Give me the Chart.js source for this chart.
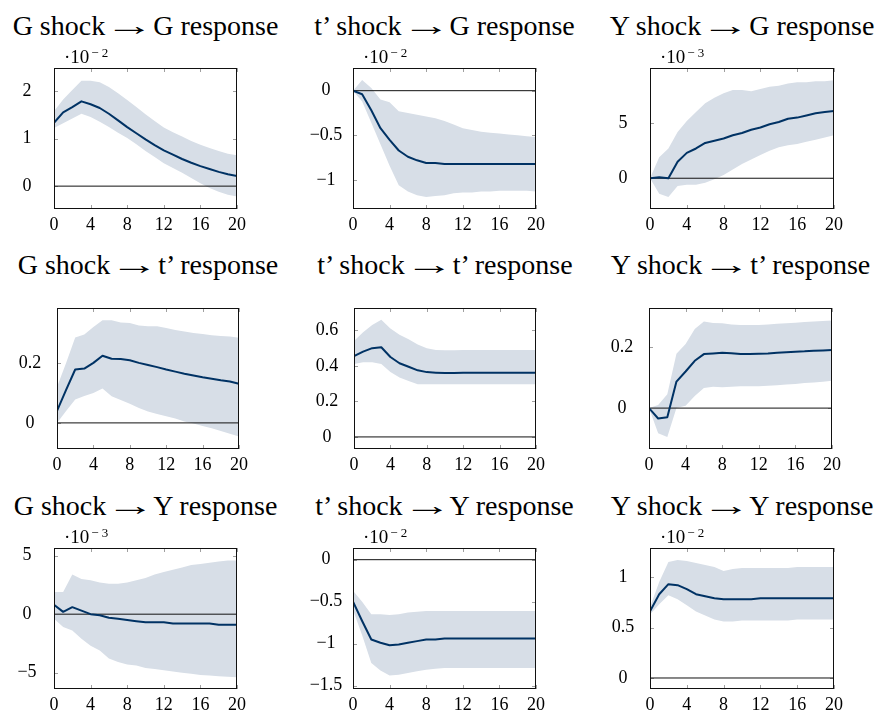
<!DOCTYPE html>
<html><head><meta charset="utf-8">
<script src="https://cdn.jsdelivr.net/npm/chart.js@4/dist/chart.umd.min.js"></script>
<style>
html,body{margin:0;padding:0;width:879px;height:713px;overflow:hidden;background:#fff;}
canvas{position:absolute;}
.ttl{position:absolute;width:400px;font-family:'Liberation Serif',serif;font-size:28px;line-height:28px;white-space:nowrap;text-align:center;color:#000;}
.ttl .arr{display:inline-block;transform:scaleX(1.75);margin:0 3px;}
.exp{position:absolute;font-family:'Liberation Serif',serif;font-size:19px;line-height:19px;white-space:nowrap;color:#000;}
.exp span{font-size:13px;position:relative;top:-6.6px;margin-left:2px;letter-spacing:3px;}
</style></head><body>
<script>
// ---------------- DATA ----------------
const horizons = [0,1,2,3,4,5,6,7,8,9,10,11,12,13,14,15,16,17,18,19,20];
const xTickLabels = [0,4,8,12,16,20];

const shockNames = ["G", "t\u2019", "Y", "G", "t\u2019", "Y", "G", "t\u2019", "Y"];
const responseNames = ["G", "G", "G", "t\u2019", "t\u2019", "t\u2019", "Y", "Y", "Y"];

// G shock -> G response (x 1e-2)
const gG_mid = [1.33,1.55,1.66,1.78,1.72,1.64,1.52,1.38,1.24,1.11,0.98,0.86,0.75,0.66,0.57,0.49,0.42,0.36,0.30,0.25,0.21];
const gG_hi  = [1.57,1.82,2.02,2.21,2.21,2.18,2.08,1.95,1.81,1.66,1.51,1.37,1.23,1.13,1.04,0.95,0.87,0.80,0.74,0.68,0.65];
const gG_lo  = [1.22,1.32,1.42,1.52,1.45,1.35,1.24,1.12,1.01,0.88,0.74,0.61,0.48,0.38,0.28,0.17,0.06,-0.04,-0.12,-0.18,-0.22];
// t' shock -> G response (x 1e-2)
const tG_mid = [0,-0.04,-0.22,-0.42,-0.55,-0.67,-0.74,-0.78,-0.81,-0.81,-0.82,-0.82,-0.82,-0.82,-0.82,-0.82,-0.82,-0.82,-0.82,-0.82,-0.82];
const tG_hi  = [0,0.12,0.03,-0.10,-0.13,-0.23,-0.25,-0.27,-0.29,-0.31,-0.34,-0.38,-0.42,-0.44,-0.46,-0.47,-0.48,-0.49,-0.50,-0.51,-0.52];
const tG_lo  = [0,-0.12,-0.36,-0.60,-0.84,-1.06,-1.13,-1.17,-1.19,-1.18,-1.17,-1.15,-1.14,-1.14,-1.13,-1.13,-1.12,-1.12,-1.12,-1.12,-1.13];
// Y shock -> G response (x 1e-3)
const yG_mid = [0,0.1,0,1.5,2.3,2.7,3.2,3.4,3.6,3.9,4.1,4.4,4.6,4.9,5.1,5.4,5.5,5.7,5.9,6.0,6.1];
const yG_hi  = [0,1.9,2.7,4.2,5.2,6.0,6.8,7.3,7.7,8.0,8.0,7.9,8.1,8.3,8.4,8.6,8.7,8.7,8.8,8.8,8.9];
const yG_lo  = [0,-1.4,-1.7,-0.7,-0.6,-0.6,-0.4,-0.1,0.3,0.8,1.3,1.7,2.1,2.5,2.8,3.0,3.1,3.3,3.5,3.7,3.9];
// G shock -> t' response
const gT_mid = [0.04,0.11,0.178,0.181,0.20,0.224,0.214,0.213,0.209,0.20,0.193,0.186,0.178,0.171,0.164,0.158,0.152,0.147,0.142,0.138,0.13];
const gT_hi  = [0.12,0.20,0.285,0.295,0.32,0.342,0.342,0.335,0.333,0.325,0.322,0.322,0.316,0.31,0.305,0.30,0.296,0.292,0.29,0.288,0.284];
const gT_lo  = [0,0.04,0.078,0.09,0.10,0.115,0.089,0.076,0.064,0.05,0.038,0.03,0.022,0.015,0.005,-0.002,-0.01,-0.018,-0.027,-0.036,-0.045];
// t' shock -> t' response
const tT_mid = [0.455,0.48,0.50,0.505,0.45,0.415,0.395,0.375,0.365,0.362,0.36,0.36,0.362,0.362,0.362,0.362,0.362,0.362,0.362,0.362,0.362];
const tT_hi  = [0.54,0.59,0.63,0.66,0.61,0.575,0.55,0.52,0.50,0.49,0.488,0.488,0.49,0.49,0.49,0.49,0.49,0.49,0.49,0.49,0.49];
const tT_lo  = [0.41,0.42,0.42,0.41,0.365,0.335,0.315,0.297,0.297,0.297,0.297,0.297,0.297,0.297,0.297,0.297,0.297,0.297,0.297,0.297,0.297];
// Y shock -> t' response
const yT_mid = [0,-0.034,-0.03,0.087,0.12,0.155,0.177,0.179,0.181,0.18,0.177,0.177,0.178,0.179,0.181,0.183,0.185,0.186,0.188,0.189,0.19];
const yT_hi  = [0,0.01,0.045,0.178,0.21,0.259,0.284,0.279,0.278,0.274,0.272,0.272,0.272,0.274,0.276,0.278,0.28,0.282,0.284,0.285,0.287];
const yT_lo  = [0,-0.082,-0.095,0,0.008,0.04,0.066,0.07,0.068,0.07,0.072,0.072,0.072,0.073,0.075,0.077,0.079,0.082,0.084,0.086,0.09];
// G shock -> Y response (x 1e-3)
const gY_mid = [0.8,0.2,0.6,0.3,0,-0.1,-0.3,-0.4,-0.5,-0.6,-0.7,-0.7,-0.7,-0.8,-0.8,-0.8,-0.8,-0.8,-0.9,-0.9,-0.9];
const gY_hi  = [1.9,1.9,3.4,3.0,2.9,2.7,2.6,2.6,2.7,2.9,3.1,3.4,3.6,3.8,4.0,4.2,4.3,4.4,4.5,4.6,4.6];
const gY_lo  = [-0.4,-1.1,-1.4,-2.1,-2.7,-3.1,-3.8,-4.1,-4.3,-4.4,-4.6,-4.7,-4.8,-4.9,-5.0,-5.1,-5.2,-5.25,-5.3,-5.35,-5.4];
// t' shock -> Y response (x 1e-2)
const tY_mid = [-0.5,-0.73,-0.95,-0.99,-1.02,-1.01,-0.99,-0.97,-0.95,-0.95,-0.94,-0.94,-0.94,-0.94,-0.94,-0.94,-0.94,-0.94,-0.94,-0.94,-0.94];
const tY_hi  = [-0.37,-0.50,-0.65,-0.65,-0.66,-0.65,-0.63,-0.62,-0.61,-0.61,-0.61,-0.61,-0.61,-0.61,-0.61,-0.61,-0.61,-0.61,-0.61,-0.61,-0.61];
const tY_lo  = [-0.6,-0.9,-1.23,-1.32,-1.38,-1.37,-1.35,-1.33,-1.31,-1.30,-1.29,-1.29,-1.29,-1.29,-1.29,-1.29,-1.29,-1.29,-1.29,-1.29,-1.29];
// Y shock -> Y response (x 1e-2)
const yY_mid = [0.66,0.83,0.93,0.92,0.88,0.83,0.81,0.79,0.78,0.78,0.78,0.78,0.79,0.79,0.79,0.79,0.79,0.79,0.79,0.79,0.79];
const yY_hi  = [0.70,0.95,1.15,1.17,1.16,1.14,1.12,1.10,1.06,1.08,1.09,1.09,1.09,1.09,1.09,1.09,1.10,1.10,1.10,1.10,1.10];
const yY_lo  = [0.63,0.73,0.82,0.78,0.72,0.66,0.62,0.58,0.56,0.56,0.57,0.57,0.57,0.57,0.57,0.57,0.58,0.58,0.58,0.58,0.58];

// y tick labels per panel
const yTicks = [[0,1,2],[-1,-0.5,0],[0,5],[0,0.2],[0,0.2,0.4,0.6],[0,0.2],[-5,0,5],[-1.5,-1,-0.5,0],[0,0.5,1]];
// y axis limits per panel
const yMin = [-0.48,-1.325,-2.79,-0.087,-0.068,-0.134,-6.4,-1.54,-0.109];
const yMax = [2.48,0.254,10.0,0.383,0.726,0.328,5.66,0.139,1.288];
// scale exponents (null = none)
const exponents = ["\u22122","\u22122","\u22123",null,null,null,"\u22123","\u22122","\u22122"];

const mids = [gG_mid,tG_mid,yG_mid,gT_mid,tT_mid,yT_mid,gY_mid,tY_mid,yY_mid];
const his  = [gG_hi,tG_hi,yG_hi,gT_hi,tT_hi,yT_hi,gY_hi,tY_hi,yY_hi];
const los  = [gG_lo,tG_lo,yG_lo,gT_lo,tT_lo,yT_lo,gY_lo,tY_lo,yY_lo];

// ---------------- LAYOUT / STYLE ----------------
const boxes = [
  {l:54,r:237,t:68,b:209},{l:353,r:536,t:68,b:209},{l:650,r:834,t:68,b:209},
  {l:57,r:239,t:308,b:449},{l:354,r:536,t:308,b:449},{l:649,r:832,t:308,b:449},
  {l:54,r:237,t:548,b:689},{l:353,r:536,t:548,b:689},{l:650,r:834,t:548,b:689}
];
const titleBaselines = [35.5,274,515.5];
const Y_AXIS_W = 50, X_AXIS_H = 28, PAD_T = 8, PAD_R = 12;
const LABEL_CENTER = 27;
const FONT = "'Liberation Serif', serif";
const TICK_SIZE = 18;
const NAVY = 'rgb(0,50,100)';
const BAND = 'rgb(215,222,231)';

Chart.defaults.font.family = FONT;
Chart.defaults.font.size = TICK_SIZE;
Chart.defaults.color = '#000';

const fmt = v => (v < 0 ? '\u2212' + String(Math.abs(v)) : String(v));
const mctx = document.createElement('canvas').getContext('2d');
mctx.font = TICK_SIZE + "px 'Liberation Serif'";

const framePlugin = {
  id: 'frame',
  beforeDatasetsDraw(chart) {
    const {ctx, chartArea: a, scales} = chart;
    ctx.save();
    ctx.strokeStyle = '#a0a0a0';
    ctx.lineWidth = 1;
    ctx.beginPath();
    scales.y.ticks.forEach(t => {
      const y = Math.round(scales.y.getPixelForValue(t.value)) + 0.5;
      ctx.moveTo(a.left, y); ctx.lineTo(a.left + 4, y);
      ctx.moveTo(a.right - 4, y); ctx.lineTo(a.right, y);
    });
    scales.x.ticks.forEach(t => {
      const x = Math.round(scales.x.getPixelForValue(t.value)) + 0.5;
      ctx.moveTo(x, a.bottom); ctx.lineTo(x, a.bottom - 4);
      ctx.moveTo(x, a.top); ctx.lineTo(x, a.top + 4);
    });
    ctx.stroke();
    ctx.restore();
  },
  afterDraw(chart) {
    const {ctx, chartArea: a} = chart;
    ctx.save();
    ctx.strokeStyle = '#111';
    ctx.lineWidth = 1;
    ctx.strokeRect(a.left + 0.5, a.top + 0.5, a.right - a.left - 1, a.bottom - a.top - 1);
    ctx.restore();
  }
};

function pts(arr) { return arr.map((v, i) => ({x: horizons[i], y: v})); }

for (let i = 0; i < 9; i++) {
  const bx = boxes[i];
  const W = Y_AXIS_W + (bx.r - bx.l) + PAD_R;
  const H = PAD_T + (bx.b - bx.t) + X_AXIS_H;
  const cv = document.createElement('canvas');
  cv.width = W; cv.height = H;
  cv.style.left = (bx.l - Y_AXIS_W) + 'px';
  cv.style.top = (bx.t - PAD_T) + 'px';
  cv.style.width = W + 'px'; cv.style.height = H + 'px';
  document.body.appendChild(cv);

  // title
  const row = Math.floor(i / 3);
  const td = document.createElement('div');
  td.className = 'ttl';
  td.appendChild(document.createTextNode(shockNames[i] + ' shock '));
  const ar = document.createElement('span');
  ar.className = 'arr';
  ar.textContent = '\u2192';
  td.appendChild(ar);
  td.appendChild(document.createTextNode(' ' + responseNames[i] + ' response'));
  td.style.left = ((bx.l + bx.r) / 2 - 200) + 'px';
  td.style.top = (titleBaselines[row] - 23.45) + 'px';
  document.body.appendChild(td);

  // exponent
  if (exponents[i]) {
    const ed = document.createElement('div');
    ed.className = 'exp';
    ed.innerHTML = '\u00b710<span>' + exponents[i] + '</span>';
    ed.style.left = (bx.l + 10) + 'px';
    ed.style.top = (bx.t - 4.7 - 15.9) + 'px';
    document.body.appendChild(ed);
  }

  const ticks = yTicks[i];
  const widest = Math.max(...ticks.map(v => mctx.measureText(fmt(v)).width));
  const pad = Math.max(0, LABEL_CENTER - widest / 2);
  const last = horizons.length - 1;

  new Chart(cv, {
    type: 'line',
    data: {
      datasets: [
        {data: pts(his[i]), borderWidth: 0, pointRadius: 0, fill: '+1', backgroundColor: BAND, borderColor: 'rgba(0,0,0,0)', tension: 0, order: 2},
        {data: pts(los[i]), borderWidth: 0, pointRadius: 0, fill: false, borderColor: 'rgba(0,0,0,0)', tension: 0, order: 3},
        {data: [{x: horizons[0], y: 0}, {x: horizons[last], y: 0}], borderWidth: 1, borderColor: '#111', pointRadius: 0, fill: false, order: 1},
        {data: pts(mids[i]), borderWidth: 2, borderColor: NAVY, pointRadius: 0, fill: false, tension: 0, order: 0, borderJoinStyle: 'round'}
      ]
    },
    options: {
      responsive: false, animation: false, devicePixelRatio: 1,
      layout: {padding: {left: 0, top: PAD_T, right: PAD_R, bottom: 0}},
      plugins: {legend: {display: false}, tooltip: {enabled: false}, title: {display: false}},
      scales: {
        x: {
          type: 'linear', min: horizons[0], max: horizons[last],
          grid: {display: false, drawTicks: false}, border: {display: false},
          ticks: {padding: 5, maxRotation: 0, autoSkip: false, color: '#000', callback: v => String(v)},
          afterBuildTicks: s => { s.ticks = xTickLabels.map(v => ({value: v})); },
          afterFit: s => { s.height = X_AXIS_H; s.paddingLeft = 0; s.paddingRight = 0; }
        },
        y: {
          type: 'linear', min: yMin[i], max: yMax[i],
          grid: {display: false, drawTicks: false}, border: {display: false},
          ticks: {crossAlign: 'center', padding: pad, color: '#000', callback: v => fmt(v)},
          afterBuildTicks: s => { s.ticks = ticks.map(v => ({value: v})); },
          afterFit: s => { s.width = Y_AXIS_W; s.paddingTop = 0; s.paddingBottom = 0; }
        }
      }
    },
    plugins: [framePlugin]
  });
}
</script>
</body></html>
